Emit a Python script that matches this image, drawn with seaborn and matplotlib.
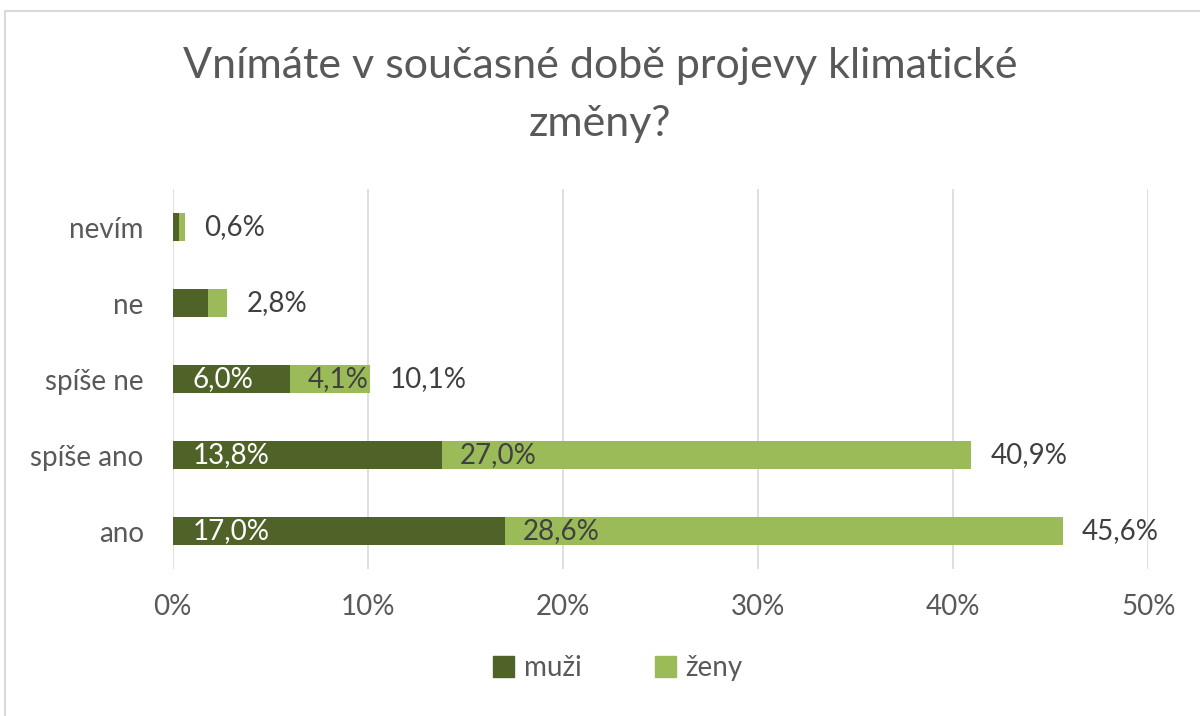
import matplotlib
matplotlib.use("Agg")
import matplotlib.pyplot as plt
import matplotlib.patches as mpatches
import seaborn as sns
import pandas as pd

# data
kategorie = ["nevím", "ne", "spíše ne", "spíše ano", "ano"]
muzi = [0.3, 1.8, 6.0, 13.8, 17.0]
zeny = [0.3, 1.0, 4.1, 27.0, 28.6]
celkem = [0.6, 2.8, 10.1, 40.9, 45.6]
popisky_uvnitr = [False, False, True, True, True]

df = pd.DataFrame({"kategorie": kategorie, "muži": muzi, "ženy": zeny, "celkem": celkem})

tmava = "#4F6228"
svetla = "#9BBB59"
seda = "#595959"

sns.set_style("white")
plt.rcParams["font.family"] = ["Lato", "DejaVu Sans"]

fig = plt.figure(figsize=(12, 7.16), dpi=100)
ax = fig.add_axes([0.144, 0.205, 0.813, 0.531])

# stacked bars: total (light) underneath, men (dark) on top
sns.barplot(data=df, x="celkem", y="kategorie", color=svetla, width=0.37,
            saturation=1, linewidth=0, ax=ax, zorder=2)
sns.barplot(data=df, x="muži", y="kategorie", color=tmava, width=0.37,
            saturation=1, linewidth=0, ax=ax, zorder=3)

# labels
fs = 20
for i, row in df.iterrows():
    if popisky_uvnitr[i]:
        ax.annotate(f"{row['muži']:.1f}%".replace(".", ","), (0, i),
                    xytext=(14, 0), textcoords="offset points",
                    ha="left", va="center", color="white", fontsize=fs, zorder=5)
        ax.annotate(f"{row['ženy']:.1f}%".replace(".", ","), (row["muži"], i),
                    xytext=(13, 0), textcoords="offset points",
                    ha="left", va="center", color="#404040", fontsize=fs, zorder=5)
    ax.annotate(f"{row['celkem']:.1f}%".replace(".", ","), (row["celkem"], i),
                xytext=(14, 0), textcoords="offset points",
                ha="left", va="center", color="#404040", fontsize=fs, zorder=5)

ax.set_xlim(0, 50)
ax.set_xticks(range(0, 51, 10))
ax.set_xticklabels([f"{t}%" for t in range(0, 51, 10)])
ax.set_ylim(4.5, -0.5)
ax.set_xlabel("")
ax.set_ylabel("")
ax.grid(axis="x", color="#D9D9D9", linewidth=1.2, zorder=0)
ax.set_axisbelow(True)
for s in ax.spines.values():
    s.set_visible(False)
ax.tick_params(axis="both", length=0, labelsize=fs, colors=seda)
ax.tick_params(axis="x", pad=18)
ax.tick_params(axis="y", pad=21)

fig.suptitle("Vnímáte v současné době projevy klimatické\nzměny?", y=0.935,
             fontsize=31, color=seda, linespacing=1.65)

handles = [mpatches.Patch(color=tmava, label="muži"), mpatches.Patch(color=svetla, label="ženy")]
fig.legend(handles=handles, loc="center", bbox_to_anchor=(0.515, 0.067), ncol=2,
           frameon=False, fontsize=fs, labelcolor=seda, handlelength=0.75,
           handleheight=0.75, handletextpad=0.35, columnspacing=2.65)

# chart border
fig.patches.append(mpatches.Rectangle((0.004, -0.01), 1.0, 0.995, transform=fig.transFigure,
                                      fill=False, edgecolor="#D9D9D9", linewidth=1.5))

plt.savefig("out.png", dpi=100)
